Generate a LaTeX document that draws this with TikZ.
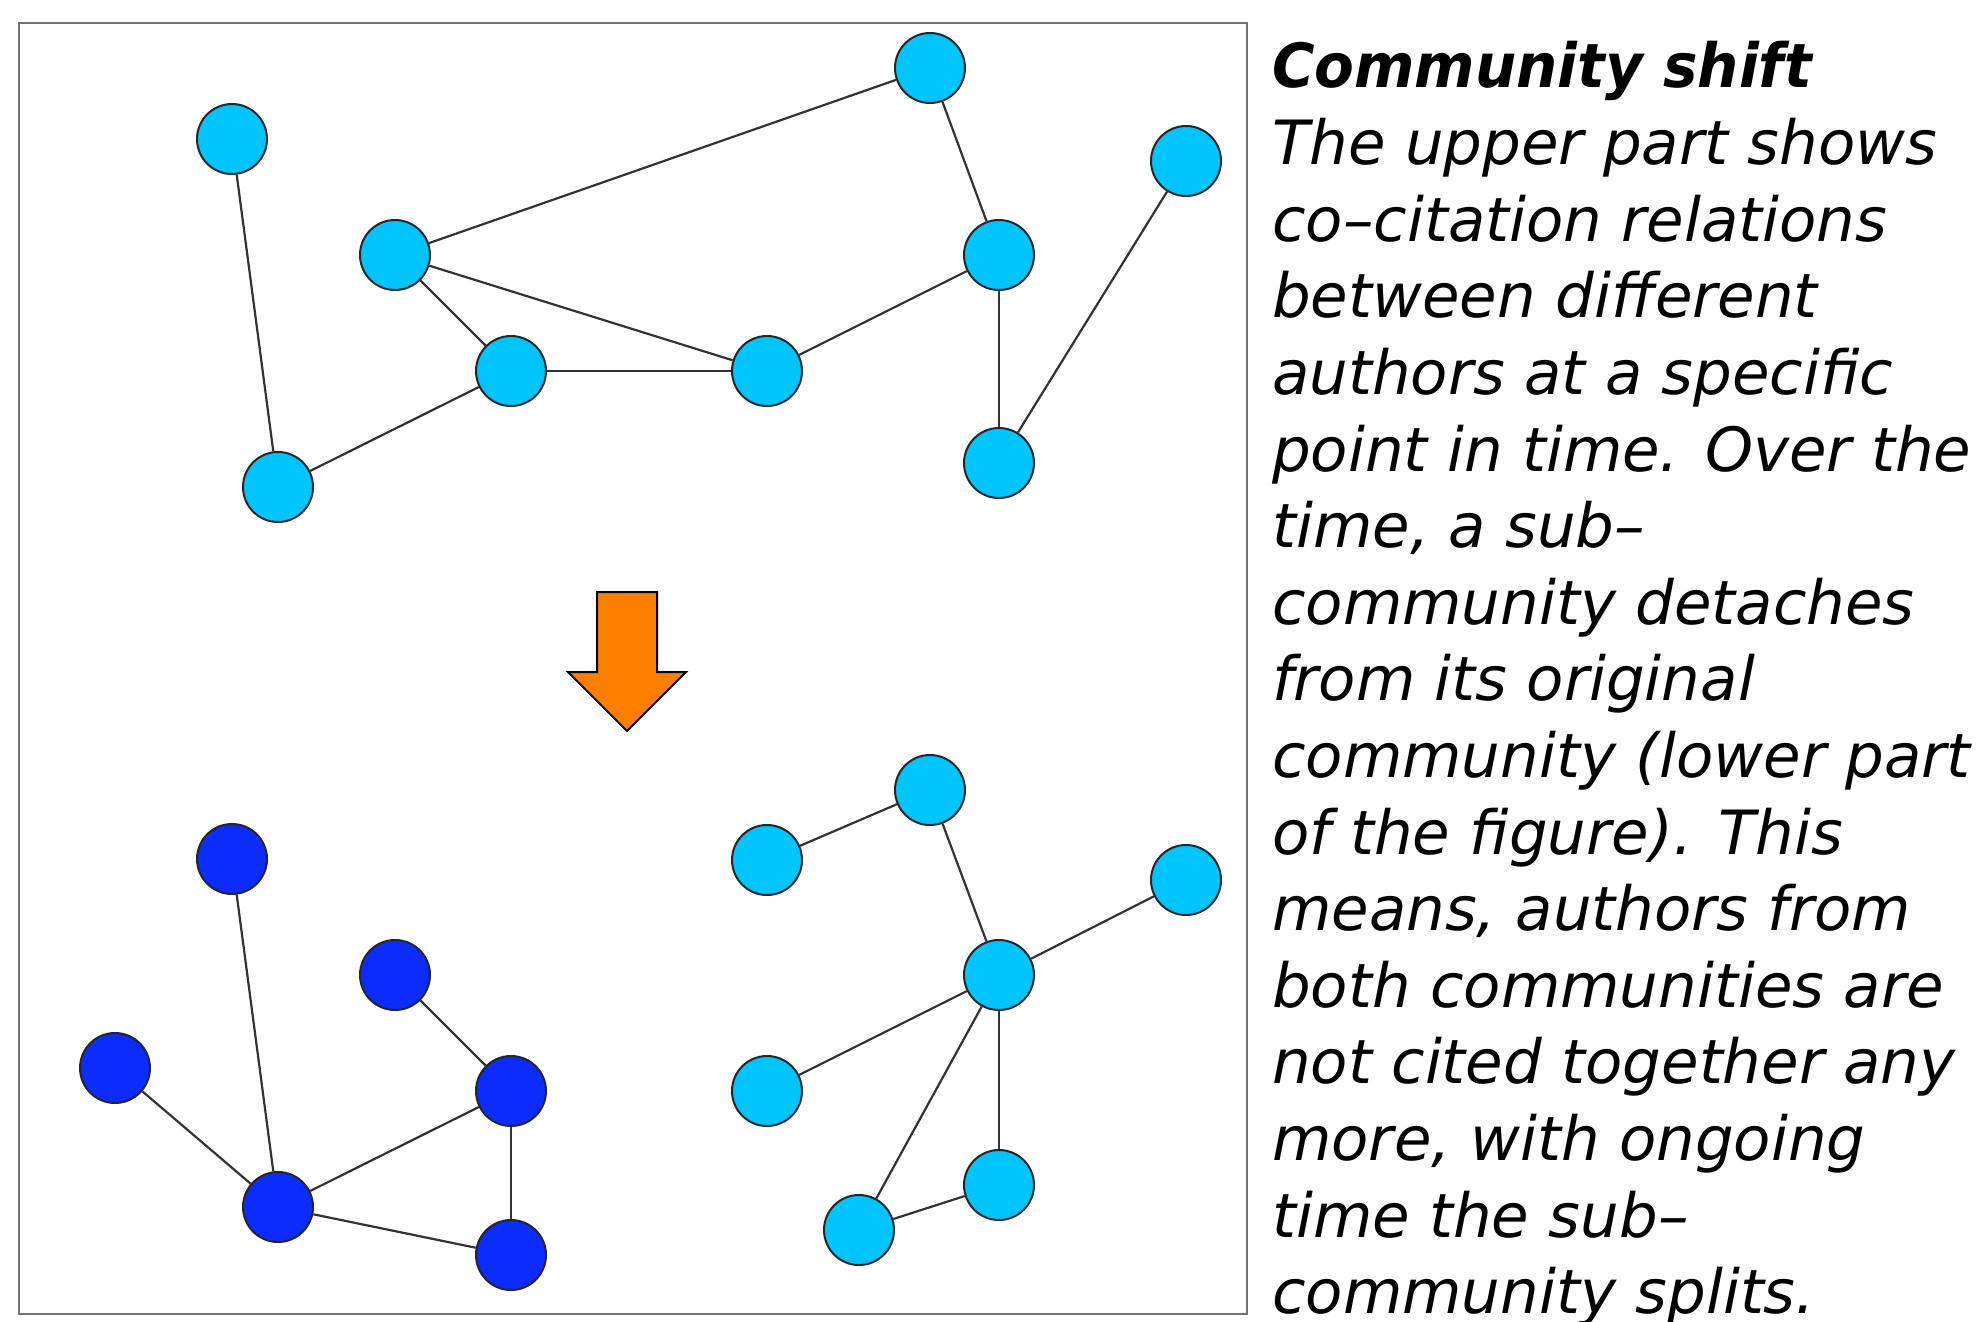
\documentclass[tikz,border=0pt]{standalone}
\usepackage{fontspec}
\setmainfont{DejaVu Sans}
\newfontfamily\titlefont{DejaVu Sans}[FakeStretch=0.95]
\definecolor{lightb}{RGB}{0,197,255}
\definecolor{darkb}{RGB}{12,44,255}
\definecolor{arroworange}{RGB}{255,128,0}
\begin{document}
\begin{tikzpicture}[x=1pt,y=-1pt,
  lb/.style={circle, draw=black!85, line width=2pt, fill=lightb, minimum size=70pt, inner sep=0pt},
  db/.style={circle, draw=black!85, line width=2pt, fill=darkb, minimum size=70pt, inner sep=0pt},
  edge/.style={draw=black!80, line width=2.2pt},
  txt/.style={anchor=base west, inner sep=0pt, font=\fontsize{61}{76}\selectfont\itshape}]
\useasboundingbox (0,0) rectangle (1978,1322);
\draw[black!55, line width=2.5pt] (19,23) rectangle (1247,1314);

% upper graph
\node[lb] (A) at (232,139) {};
\node[lb] (B) at (930,68) {};
\node[lb] (C) at (1186,161) {};
\node[lb] (D) at (395,255) {};
\node[lb] (E) at (999,255) {};
\node[lb] (F) at (511,371) {};
\node[lb] (G) at (767,371) {};
\node[lb] (H) at (278,487) {};
\node[lb] (I) at (999,463) {};
\draw[edge] (A) -- (H);
\draw[edge] (H) -- (F);
\draw[edge] (F) -- (D);
\draw[edge] (D) -- (B);
\draw[edge] (D) -- (G);
\draw[edge] (F) -- (G);
\draw[edge] (G) -- (E);
\draw[edge] (B) -- (E);
\draw[edge] (E) -- (I);
\draw[edge] (I) -- (C);

% arrow
\draw[black, line width=2pt, fill=arroworange, line join=miter]
  (597,592) -- (657,592) -- (657,672) -- (686,672) -- (627,731) -- (568,672) -- (597,672) -- cycle;

% lower left graph
\node[db] (a) at (232,859) {};
\node[db] (b) at (395,975) {};
\node[db] (c) at (115,1068) {};
\node[db] (d) at (511,1091) {};
\node[db] (e) at (278,1207) {};
\node[db] (f) at (511,1255) {};
\draw[edge] (a) -- (e);
\draw[edge] (c) -- (e);
\draw[edge] (e) -- (d);
\draw[edge] (b) -- (d);
\draw[edge] (d) -- (f);
\draw[edge] (e) -- (f);

% lower right graph
\node[lb] (g) at (930,790) {};
\node[lb] (h) at (767,860) {};
\node[lb] (i) at (1186,880) {};
\node[lb] (j) at (999,975) {};
\node[lb] (k) at (767,1091) {};
\node[lb] (l) at (999,1185) {};
\node[lb] (m) at (859,1230) {};
\draw[edge] (h) -- (g);
\draw[edge] (g) -- (j);
\draw[edge] (i) -- (j);
\draw[edge] (k) -- (j);
\draw[edge] (j) -- (l);
\draw[edge] (j) -- (m);
\draw[edge] (m) -- (l);

% text
\node[txt, font=\titlefont\fontsize{61}{76}\selectfont\bfseries\itshape] (t0) at (1272,88) {Community shift};
\foreach \s [count=\n] in {
  {The upper part shows},
  {co–citation relations},
  {between different},
  {authors at a specific},
  {point in time. Over the},
  {time, a sub–},
  {community detaches},
  {from its original},
  {community (lower part},
  {of the figure). This},
  {means, authors from},
  {both communities are},
  {not cited together any},
  {more, with ongoing},
  {time the sub–},
  {community splits.}}
  \node[txt] (t\n) at (1272,{88+76.6*\n}) {\s};
\end{tikzpicture}
\end{document}
